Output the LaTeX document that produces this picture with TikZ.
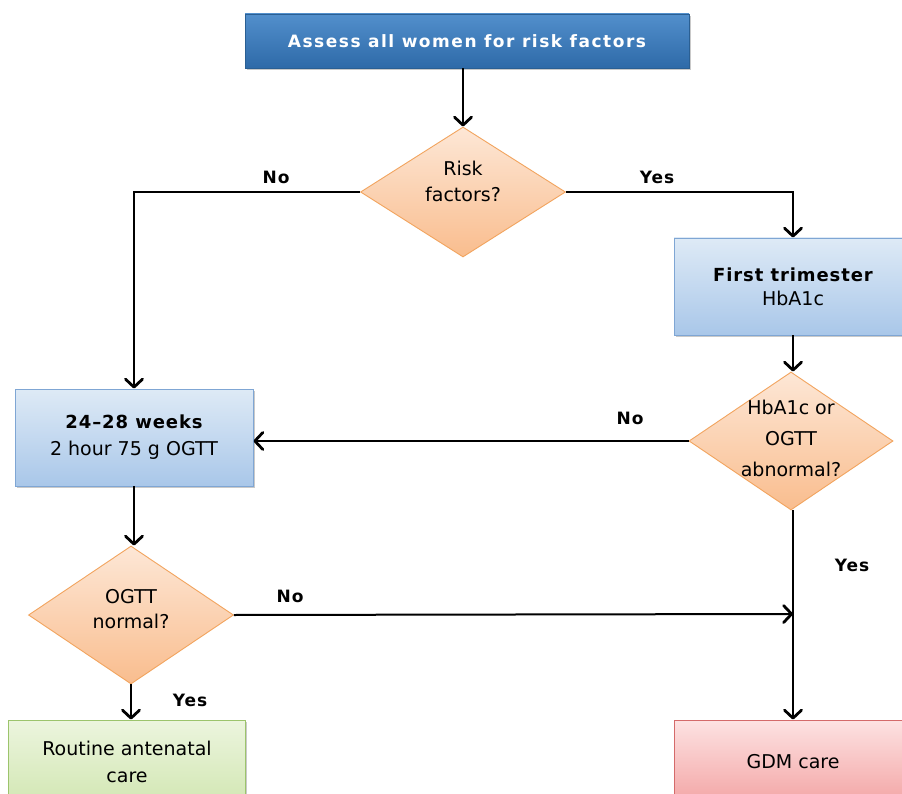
\documentclass[tikz,border=0pt]{standalone}
\usepackage{fontspec}
\setmainfont{DejaVu Sans}
\newfontfamily\topbf[LetterSpace=9]{DejaVu Sans Bold}
\newfontfamily\boxbf[LetterSpace=5]{DejaVu Sans Bold}
\newfontfamily\lblbf[LetterSpace=6]{DejaVu Sans Bold}
\usetikzlibrary{shapes.geometric,arrows.meta,shadows}
\definecolor{topA}{HTML}{528FCC}
\definecolor{topB}{HTML}{2E6AA8}
\definecolor{topE}{HTML}{2A5F93}
\definecolor{blA}{HTML}{DEEAF6}
\definecolor{blB}{HTML}{A9C7E9}
\definecolor{blE}{HTML}{7FA6D4}
\definecolor{orA}{HTML}{FDE7D6}
\definecolor{orB}{HTML}{F9BD8E}
\definecolor{orE}{HTML}{F2A45E}
\definecolor{grA}{HTML}{ECF5DE}
\definecolor{grB}{HTML}{D2E7B3}
\definecolor{grE}{HTML}{9CC46C}
\definecolor{pkA}{HTML}{FDE2E2}
\definecolor{pkB}{HTML}{F3A5A5}
\definecolor{pkE}{HTML}{D46A6A}
\tikzset{
  basebox/.style={rectangle, inner sep=0pt, align=center, line width=0.9pt,
    drop shadow={shadow xshift=1.5pt, shadow yshift=-2pt, opacity=0.35, fill=black!60}},
  topbox/.style={basebox, draw=topE, top color=topA, bottom color=topB,
    minimum width=444pt, minimum height=54pt, text=white, font=\topbf\fontsize{17}{20}\selectfont},
  bluebox/.style={basebox, draw=blE, top color=blA, bottom color=blB,
    minimum width=238pt, minimum height=97pt, font=\fontsize{19}{27}\selectfont},
  greenbox/.style={basebox, draw=grE, top color=grA, bottom color=grB,
    minimum width=237pt, minimum height=84pt, font=\fontsize{19}{27}\selectfont},
  pinkbox/.style={basebox, draw=pkE, top color=pkA, bottom color=pkB,
    minimum width=237pt, minimum height=84pt, font=\fontsize{19}{27}\selectfont},
  decision/.style={diamond, aspect=1.5, inner sep=0pt, line width=0.9pt,
    draw=orE, top color=orA, bottom color=orB},
  dtext/.style={align=center, inner sep=0pt, font=\fontsize{19}{26}\selectfont},
  arr/.style={line width=2pt, -{Straight Barb[length=8pt,width=17pt,line width=2.8pt,round]}},
  lbl/.style={font=\lblbf\fontsize{17}{20}\selectfont},
}
\begin{document}
\begin{tikzpicture}[x=1pt,y=-1pt]
\useasboundingbox (0,0) rectangle (902,794);
\fill[white] (0,0) rectangle (902,794);

\node[topbox] (top) at (467,41) {Assess all women for risk factors};
\node[decision, minimum width=205pt, minimum height=130pt] (d1) at (463,192) {};
\node[dtext] (d1t) at (463,181) {Risk\\factors?};
\node[bluebox, font=\fontsize{19}{24}\selectfont] (b2) at (793,286.5) {{\boxbf\fontsize{18}{20}\selectfont First trimester}\\HbA1c};
\node[decision, minimum width=204pt, minimum height=138pt] (d2) at (791,441) {};
\node[dtext, font=\fontsize{19}{31}\selectfont] (d2t) at (791,438) {HbA1c or\\OGTT\\abnormal?};
\node[bluebox] (b3) at (134,437.5) {{\boxbf\fontsize{18}{20}\selectfont 24–28 weeks}\\2 hour 75 g OGTT};
\node[decision, minimum width=205pt, minimum height=138pt] (d3) at (131,615) {};
\node[dtext, font=\fontsize{19}{25}\selectfont] (d3t) at (131,609) {OGTT\\normal?};
\node[greenbox] (b4) at (127,762) {Routine antenatal\\care};
\node[pinkbox] (b5) at (793,762) {GDM care};
\coordinate (m) at (793,614);

\draw[arr] (d1.north |- top.south) -- (d1.north);
\draw[arr] (d1.west) -| (b3.north);
\draw[arr] (d1.east) -| (b2.north);
\draw[arr] (b2.south) -- (d2.north -| b2.south);
\draw[arr] (d2.west) -- (d2.west -| b3.east);
\draw[arr] (b3.south) -- (d3.north -| b3.south);
\draw[arr] (d3.east) -- (m);
\draw[arr] (d2.south -| b5.north) -- (b5.north);
\draw[arr] (d3.south) -- (d3.south |- b4.north);

\node[lbl] (no1) at (276,177) {No};
\node[lbl] (yes1) at (657,177) {Yes};
\node[lbl] (no2) at (630,418) {No};
\node[lbl] (yes2) at (852,565) {Yes};
\node[lbl] (no3) at (290,596) {No};
\node[lbl] (yes3) at (190,700) {Yes};
\end{tikzpicture}
\end{document}
